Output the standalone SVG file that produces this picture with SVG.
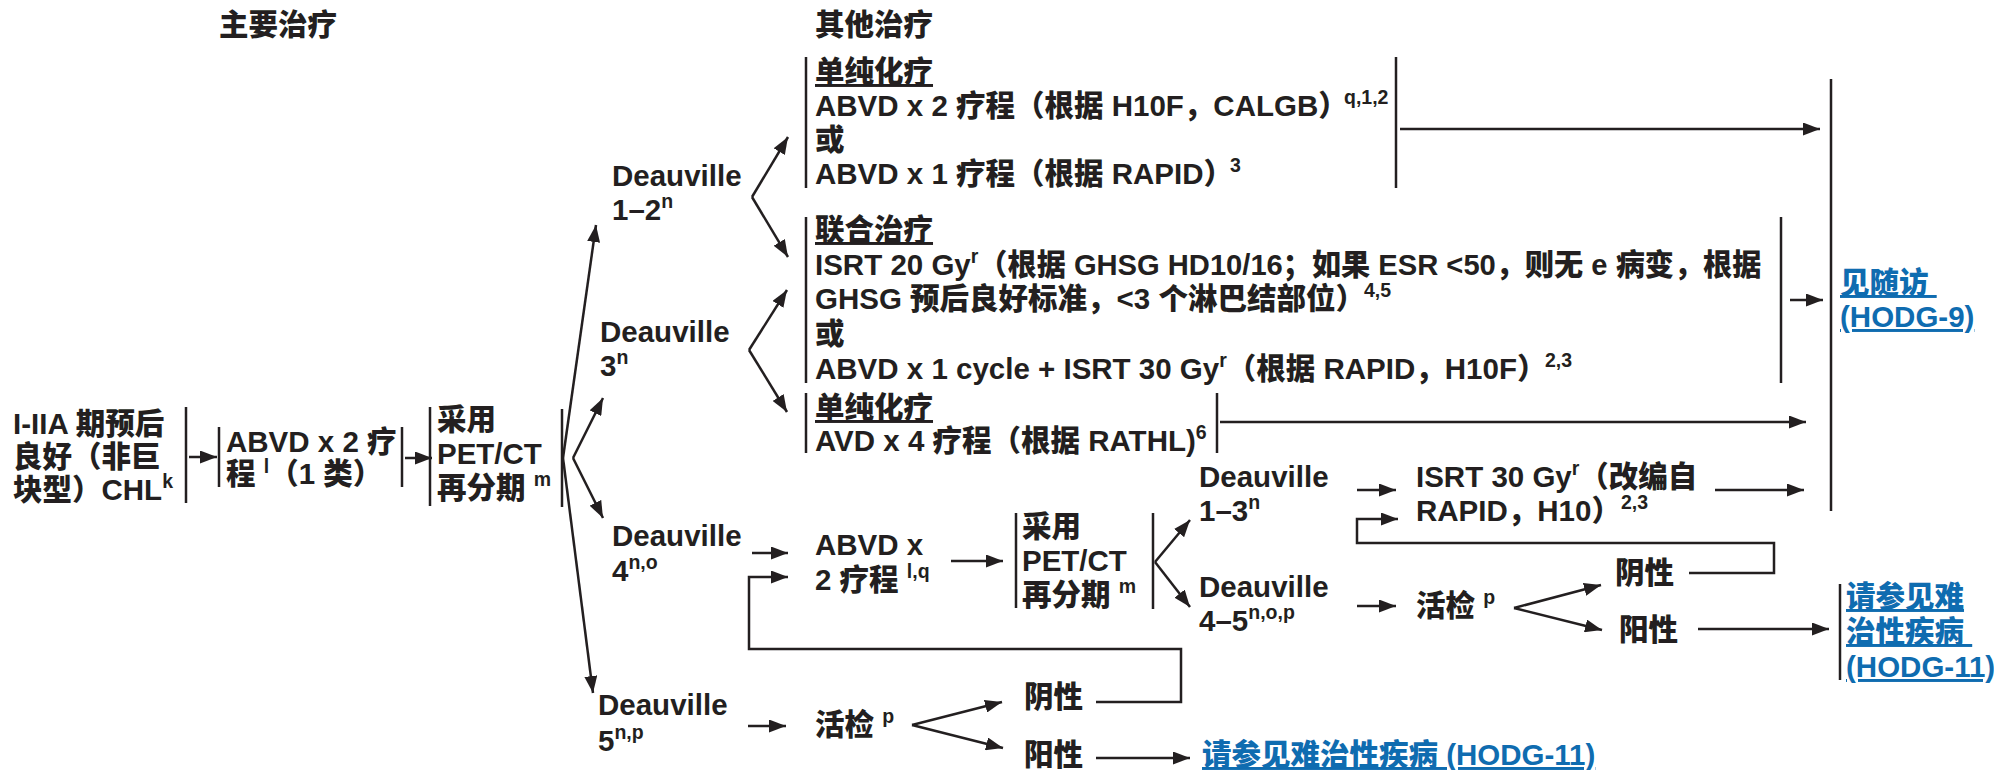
<svg xmlns="http://www.w3.org/2000/svg" width="1994" height="770" viewBox="0 0 1994 770">
<defs>
<style>
.t{font-family:"Liberation Sans","Noto Sans CJK SC",sans-serif;font-weight:900;font-size:29.5px;fill:#231f20}
.s{font-size:19.5px}
.u{text-decoration:underline}
.lk{fill:#0f6cb0;text-decoration:underline}
.bar{stroke:#231f20;stroke-width:2.5}
.ar{stroke:#231f20;stroke-width:2.5;fill:none;marker-end:url(#ah)}
</style>
<marker id="ah" markerWidth="17" markerHeight="13" refX="17" refY="6.5" orient="auto" markerUnits="userSpaceOnUse"><path d="M0,0 L17,6.5 L0,13 z" fill="#231f20"/></marker>
</defs>
<rect width="1994" height="770" fill="#fff"/>

<g id="headers">
<text class="t" x="219" y="35">主要治疗</text>
<text class="t" x="815" y="35">其他治疗</text>
</g>

<g id="n-start">
<text class="t" x="13" y="434">I-IIA 期预后</text>
<text class="t" x="13" y="467">良好（非巨</text>
<text class="t" x="13" y="500">块型）CHL<tspan class="s" dy="-12">k</tspan></text>
<line class="bar" x1="186" y1="407" x2="186" y2="503"/>
</g>

<g id="n-abvd2">
<line class="bar" x1="219" y1="427" x2="219" y2="487"/>
<text class="t" x="226" y="452">ABVD x 2 疗</text>
<text class="t" x="226" y="484">程 <tspan class="s" dy="-11">l</tspan><tspan dy="11">（1 类）</tspan></text>
<line class="bar" x1="402" y1="427" x2="402" y2="487"/>
</g>

<g id="n-pet1">
<line class="bar" x1="430" y1="407" x2="430" y2="506"/>
<text class="t" x="437" y="430">采用</text>
<text class="t" x="437" y="464">PET/CT</text>
<text class="t" x="437" y="498">再分期 <tspan class="s" dy="-12">m</tspan></text>
<line class="bar" x1="562" y1="409" x2="562" y2="507"/>
</g>

<g id="n-d12">
<text class="t" x="612" y="186">Deauville</text>
<text class="t" x="612" y="220">1–2<tspan class="s" dy="-12">n</tspan></text>
</g>
<g id="n-d3">
<text class="t" x="600" y="342">Deauville</text>
<text class="t" x="600" y="376">3<tspan class="s" dy="-12">n</tspan></text>
</g>
<g id="n-d4">
<text class="t" x="612" y="546">Deauville</text>
<text class="t" x="612" y="581">4<tspan class="s" dy="-12">n,o</tspan></text>
</g>
<g id="n-d5">
<text class="t" x="598" y="715">Deauville</text>
<text class="t" x="598" y="751">5<tspan class="s" dy="-12">n,p</tspan></text>
</g>

<g id="n-chemo1">
<line class="bar" x1="806" y1="57" x2="806" y2="188"/>
<text class="t u" x="815" y="82">单纯化疗</text>
<text class="t" x="815" y="116">ABVD x 2 疗程（根据 H10F，CALGB）<tspan class="s" x="1344" dy="-12">q,1,2</tspan></text>
<text class="t" x="815" y="150">或</text>
<text class="t" x="815" y="184">ABVD x 1 疗程（根据 RAPID）<tspan class="s" x="1230" dy="-12">3</tspan></text>
<line class="bar" x1="1396" y1="57" x2="1396" y2="188"/>
</g>

<g id="n-combined">
<line class="bar" x1="806" y1="217" x2="806" y2="383"/>
<text class="t u" x="815" y="240">联合治疗</text>
<text class="t" x="815" y="275">ISRT 20 Gy<tspan class="s" dy="-12">r</tspan><tspan dy="12" textLength="783" lengthAdjust="spacingAndGlyphs">（根据 GHSG HD10/16；如果 ESR &lt;50，则无 e 病变，根据</tspan></text>
<text class="t" x="815" y="309">GHSG 预后良好标准，&lt;3 个淋巴结部位）<tspan class="s" x="1364" dy="-12">4,5</tspan></text>
<text class="t" x="815" y="344">或</text>
<text class="t" x="815" y="379">ABVD x 1 cycle + ISRT 30 Gy<tspan class="s" dy="-12">r</tspan><tspan dy="12">（根据 RAPID，H10F）</tspan><tspan class="s" x="1545" dy="-12">2,3</tspan></text>
<line class="bar" x1="1781" y1="217" x2="1781" y2="383"/>
</g>

<g id="n-chemo2">
<line class="bar" x1="806" y1="393" x2="806" y2="453"/>
<text class="t u" x="815" y="418">单纯化疗</text>
<text class="t" x="815" y="451">AVD x 4 疗程（根据 RATHL)<tspan class="s" dy="-12">6</tspan></text>
<line class="bar" x1="1217" y1="393" x2="1217" y2="453"/>
</g>

<g id="n-followup">
<line class="bar" x1="1831" y1="79" x2="1831" y2="511"/>
<text class="t lk" x="1840" y="293" xml:space="preserve">见随访 </text>
<text class="t lk" x="1840" y="327">(HODG-9)</text>
</g>

<g id="n-abvd2b">
<text class="t" x="815" y="555">ABVD x</text>
<text class="t" x="815" y="590">2 疗程 <tspan class="s" dy="-12">l,q</tspan></text>
</g>

<g id="n-pet2">
<line class="bar" x1="1016" y1="513" x2="1016" y2="608"/>
<text class="t" x="1022" y="537">采用</text>
<text class="t" x="1022" y="571">PET/CT</text>
<text class="t" x="1022" y="605">再分期 <tspan class="s" dy="-12">m</tspan></text>
<line class="bar" x1="1153" y1="513" x2="1153" y2="609"/>
</g>

<g id="n-d13">
<text class="t" x="1199" y="487">Deauville</text>
<text class="t" x="1199" y="521">1–3<tspan class="s" dy="-12">n</tspan></text>
</g>
<g id="n-d45">
<text class="t" x="1199" y="597">Deauville</text>
<text class="t" x="1199" y="631">4–5<tspan class="s" dy="-12">n,o,p</tspan></text>
</g>

<g id="n-isrt30">
<text class="t" x="1416" y="487">ISRT 30 Gy<tspan class="s" dy="-12">r</tspan><tspan dy="12">（改编自</tspan></text>
<text class="t" x="1416" y="521">RAPID，H10）<tspan class="s" x="1621" dy="-12">2,3</tspan></text>
</g>

<g id="n-biopsy1">
<text class="t" x="1416" y="616">活检 <tspan class="s" dy="-12">p</tspan></text>
</g>
<g id="n-neg1"><text class="t" x="1615" y="583">阴性</text></g>
<g id="n-pos1"><text class="t" x="1619" y="640">阳性</text></g>

<g id="n-refractory1">
<line class="bar" x1="1840" y1="584" x2="1840" y2="680"/>
<text class="t lk" x="1846" y="607">请参见难</text>
<text class="t lk" x="1846" y="642" xml:space="preserve">治性疾病 </text>
<text class="t lk" x="1846" y="677">(HODG-11)</text>
</g>

<g id="n-biopsy2">
<text class="t" x="815" y="735">活检 <tspan class="s" dy="-12">p</tspan></text>
</g>
<g id="n-neg2"><text class="t" x="1024" y="707">阴性</text></g>
<g id="n-pos2"><text class="t" x="1024" y="765">阳性</text></g>
<g id="n-refractory2">
<text class="t lk" x="1202" y="765">请参见难治性疾病 (HODG-11)</text>
</g>

<g id="connectors">
<line class="ar" x1="189" y1="457" x2="217" y2="457"/>
<line class="ar" x1="405" y1="458" x2="432" y2="458"/>
<line class="ar" x1="563" y1="458" x2="596" y2="225"/>
<line class="ar" x1="563" y1="458" x2="593" y2="693"/>
<line class="ar" x1="573" y1="458" x2="603" y2="398"/>
<line class="ar" x1="573" y1="458" x2="603" y2="518"/>
<line class="ar" x1="752" y1="197" x2="788" y2="137"/>
<line class="ar" x1="752" y1="197" x2="788" y2="257"/>
<line class="ar" x1="749" y1="350" x2="787" y2="290"/>
<line class="ar" x1="749" y1="350" x2="787" y2="412"/>
<line class="ar" x1="1400" y1="129" x2="1820" y2="129"/>
<line class="ar" x1="1790" y1="300" x2="1823" y2="300"/>
<line class="ar" x1="1220" y1="422" x2="1806" y2="422"/>
<line class="ar" x1="752" y1="553" x2="788" y2="553"/>
<polyline class="ar" points="1096,702 1181,702 1181,649 749,649 749,577 788,577"/>
<line class="ar" x1="951" y1="561" x2="1003" y2="561"/>
<line class="ar" x1="1155" y1="562" x2="1190" y2="520"/>
<line class="ar" x1="1155" y1="562" x2="1190" y2="607"/>
<line class="ar" x1="1357" y1="490" x2="1396" y2="490"/>
<polyline class="ar" points="1689,573 1774,573 1774,543 1357,543 1357,519 1398,519"/>
<line class="ar" x1="1715" y1="490" x2="1804" y2="490"/>
<line class="ar" x1="1357" y1="606" x2="1396" y2="606"/>
<line class="ar" x1="1514" y1="608" x2="1601" y2="585"/>
<line class="ar" x1="1514" y1="608" x2="1602" y2="630"/>
<line class="ar" x1="1698" y1="629" x2="1829" y2="629"/>
<line class="ar" x1="748" y1="726" x2="786" y2="726"/>
<line class="ar" x1="912" y1="725" x2="1002" y2="702"/>
<line class="ar" x1="912" y1="725" x2="1003" y2="748"/>
<line class="ar" x1="1096" y1="758" x2="1190" y2="758"/>
</g>
</svg>
